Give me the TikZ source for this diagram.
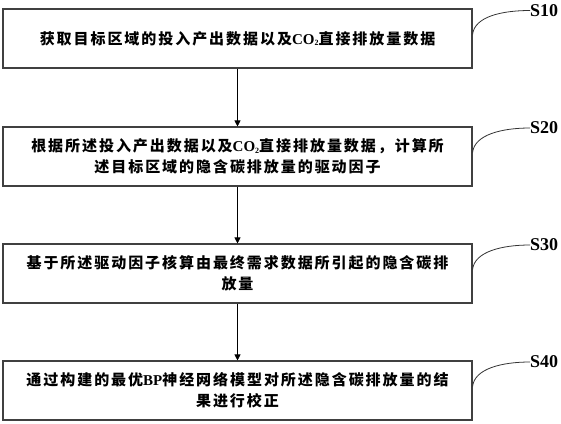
\documentclass[tikz,border=0pt]{standalone}
\usepackage{fontspec}
\usepackage{tikz}
\usetikzlibrary{arrows.meta}
\newfontfamily\cjk[LetterSpace=13]{Noto Sans CJK SC}
\newfontfamily\latin{Liberation Serif}
\newcommand{\cotwo}{{\latin\bfseries CO\raisebox{-0.25ex}{\fontsize{8}{8}\selectfont 2}}}
\begin{document}
\begin{tikzpicture}[x=1pt, y=-1pt,
		step_style/.style={rectangle,draw=black!75,line width=1.1pt,minimum width=469pt,minimum height=59pt,align=center,
			font=\cjk\bfseries\fontsize{15}{21}\selectfont},
		label_style/.style={anchor=west,inner sep=0pt,font=\latin\bfseries\fontsize{18}{18}\selectfont},
		arrow_style/.style={draw=black,line width=0.8pt,-{Triangle[length=6pt,width=6pt]}},
		curve_style/.style={draw=black!80,line width=0.8pt}]
		\useasboundingbox (0,0) rectangle (561,423);
		\node[step_style] (n1) at (237.5,38.5)  {获取目标区域的投入产出数据以及\cotwo 直接排放量数据};
		\node[step_style] (n2) at (237.5,156.5) {根据所述投入产出数据以及\cotwo 直接排放量数据，计算所\\述目标区域的隐含碳排放量的驱动因子};
		\node[step_style] (n3) at (237.5,273.5) {基于所述驱动因子核算由最终需求数据所引起的隐含碳排\\放量};
		\node[step_style] (n4) at (237.5,390.5) {通过构建的最优{\latin\bfseries BP}神经网络模型对所述隐含碳排放量的结\\果进行校正};
		\node[label_style] (s1) at (530,10.5)  {S10};
		\node[label_style] (s2) at (530,128)   {S20};
		\node[label_style] (s3) at (530,245)   {S30};
		\node[label_style] (s4) at (530,362)   {S40};
		\draw[arrow_style]  (n1) -- (n2);
		\draw[arrow_style]  (n2) -- (n3);
		\draw[arrow_style]  (n3) -- (n4);
		\draw[curve_style]  ([yshift=4pt]n1.east) .. controls +(2,-18) and +(-28,0) .. (s1.west);
		\draw[curve_style]  ([yshift=4pt]n2.east) .. controls +(2,-18) and +(-28,0) .. (s2.west);
		\draw[curve_style]  ([yshift=4pt]n3.east) .. controls +(2,-18) and +(-28,0) .. (s3.west);
		\draw[curve_style]  ([yshift=4pt]n4.east) .. controls +(2,-18) and +(-28,0) .. (s4.west);
		\end{tikzpicture}
\end{document}
